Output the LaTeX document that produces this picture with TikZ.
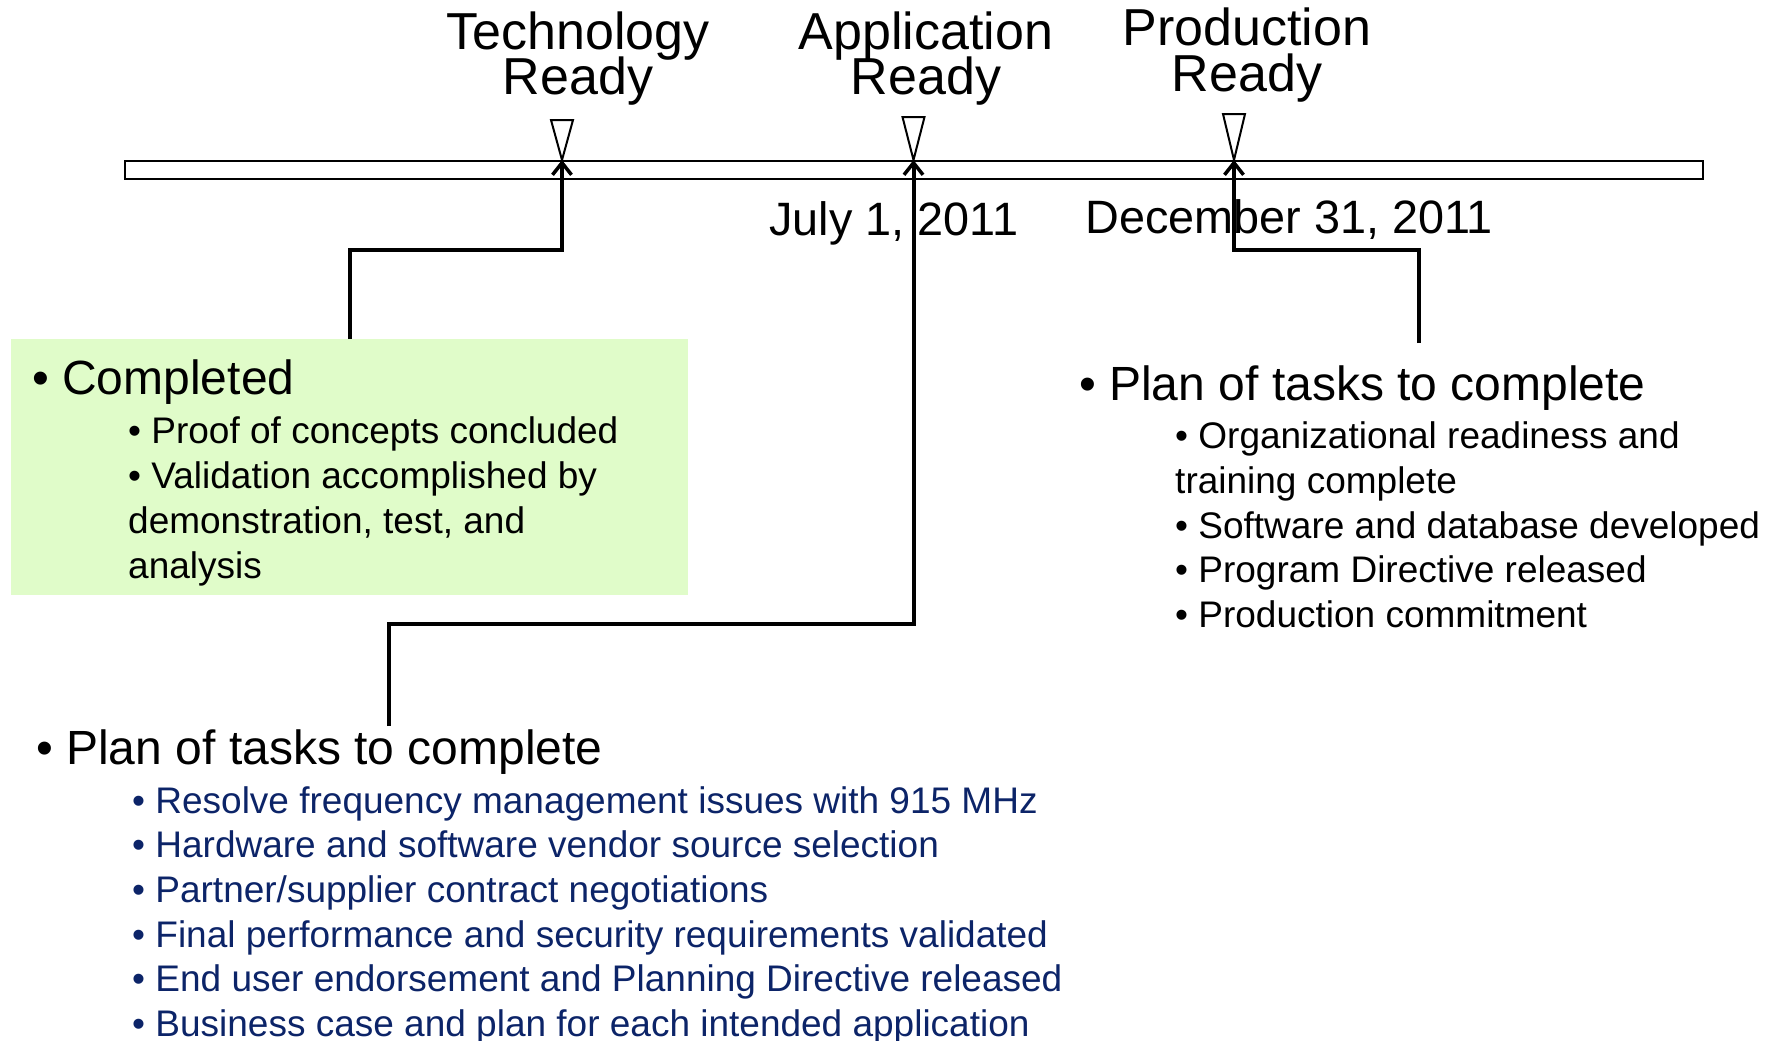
\documentclass[tikz,border=0pt]{standalone}
\usepackage{fontspec}
\setmainfont{Liberation Sans}
\usetikzlibrary{arrows.meta}
\definecolor{boxgreen}{HTML}{E0FCC9}
\definecolor{navy}{RGB}{12,36,104}
\newcommand\mytightlines{\lineskip=0pt\relax\lineskiplimit=-100pt\relax}
\tikzset{
  ttl/.style={anchor=base, inner sep=0pt, align=center, font=\fontsize{52}{45}\selectfont\mytightlines},
  dat/.style={anchor=base, inner sep=0pt, font=\fontsize{46.8}{46.8}\selectfont},
  head/.style={anchor=base west, inner sep=0pt, font=\fontsize{48}{48}\selectfont},
  sub/.style={anchor=base west, inner sep=0pt, font=\fontsize{37}{37}\selectfont},
  tri/.style={draw=black, fill=white, line width=2pt, line join=miter},
  conn/.style={draw=black, line width=4pt, line join=miter, -{Straight Barb[length=12pt,width=19pt,line width=3.5pt]}},
}
\begin{document}
\begin{tikzpicture}[x=1pt,y=-1pt]
\useasboundingbox (0,0) rectangle (1777,1041);
\clip (0,0) rectangle (1777,1041);
% green box
\node[fill=boxgreen, inner sep=0pt, minimum width=677pt, minimum height=256pt, anchor=north west] (donebox) at (11,339) {};
% bar
\node[draw=black, fill=white, line width=2pt, inner sep=0pt, minimum width=1578pt, minimum height=18pt, anchor=north west] (bar) at (124,160) {};
% milestone tips
\coordinate (tip1) at (562,160);
\coordinate (tip2) at (913.5,160);
\coordinate (tip3) at (1234,160);
% triangles
\draw[tri] (551,120) -- (573,120) -- (tip1) -- cycle;
\draw[tri] (902.5,117) -- (924.5,117) -- (tip2) -- cycle;
\draw[tri] (1223,114) -- (1245,114) -- (tip3) -- cycle;
% titles
\node[ttl] (t1) at (578,94) {Technology\\Ready};
\node[ttl] (t2) at (926,94) {Application\\Ready};
\node[ttl] (t3) at (1247,91) {Production\\Ready};
% dates
\node[dat] (d1) at (894,235) {July 1, 2011};
\node[dat] (d2) at (1289,233) {December 31, 2011};
% completed block
\node[head] (c0) at (32,394) {•~Completed};
\node[sub] (c1) at (128,443) {•~Proof of concepts concluded};
\node[sub] (c2) at (128,488) {•~Validation accomplished by};
\node[sub] (c3) at (128,533) {demonstration, test, and};
\node[sub] (c4) at (128,578) {analysis};
% right block
\node[head] (r0) at (1079,400) {•~Plan of tasks to complete};
\node[sub] (r1) at (1175,448) {•~Organizational readiness and};
\node[sub] (r2) at (1175,493) {training complete};
\node[sub] (r3) at (1175,538) {•~Software and database developed};
\node[sub] (r4) at (1175,582) {•~Program Directive released};
\node[sub] (r5) at (1175,627) {•~Production commitment};
% bottom block
\node[head] (b0) at (36,764) {•~Plan of tasks to complete};
\begin{scope}[every node/.append style={text=navy}]
\node[sub] (b1) at (132,813) {•~Resolve frequency management issues with 915 MHz};
\node[sub] (b2) at (132,857) {•~Hardware and software vendor source selection};
\node[sub] (b3) at (132,902) {•~Partner/supplier contract negotiations};
\node[sub] (b4) at (132,947) {•~Final performance and security requirements validated};
\node[sub] (b5) at (132,991) {•~End user endorsement and Planning Directive released};
\node[sub] (b6) at (132,1036) {•~Business case and plan for each intended application};
\end{scope}
% connectors
\coordinate (s1) at (350,339);
\coordinate (s2) at (389,726);
\coordinate (s3) at (1419,343);
\draw[conn] (s1) -- (350,250) -| (tip1);
\draw[conn] (s2) -- (389,624) -| (tip2);
\draw[conn] (s3) -- (1419,250) -| (tip3);
\end{tikzpicture}
\end{document}
